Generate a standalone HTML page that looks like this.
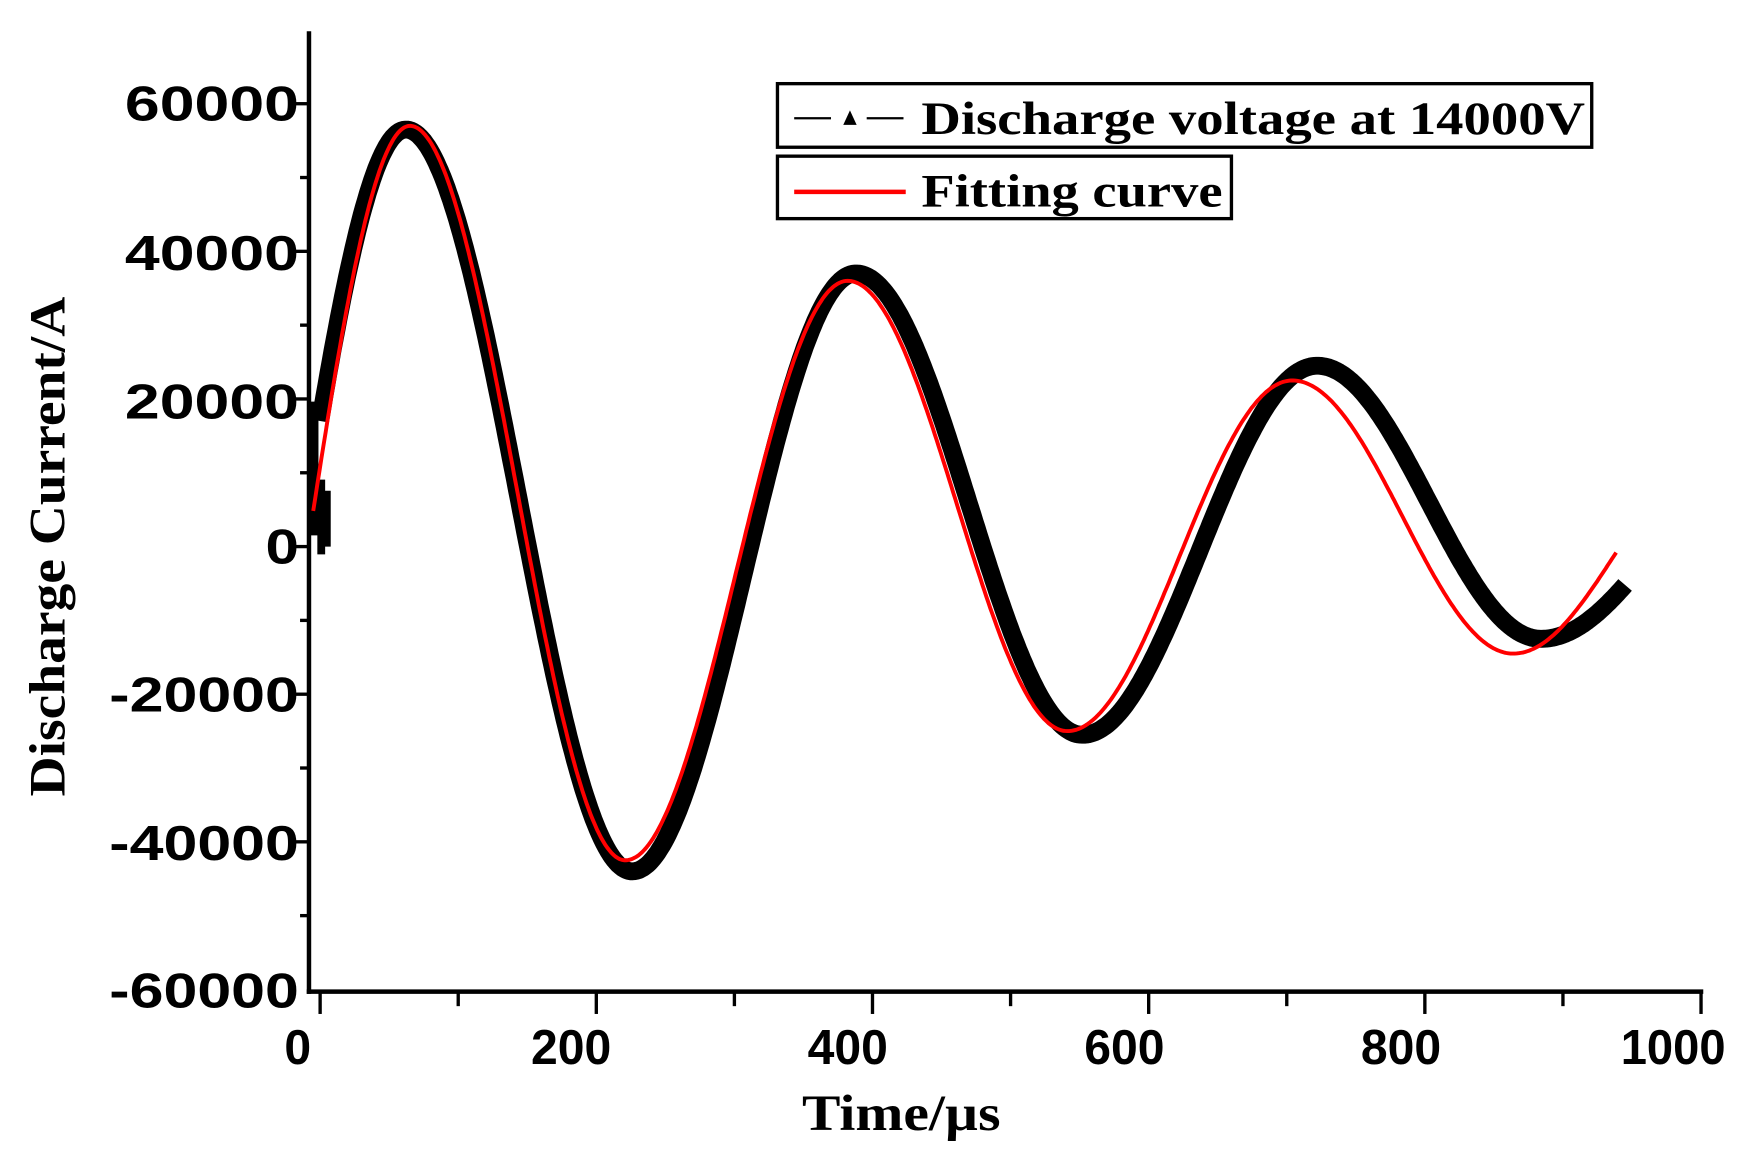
<!DOCTYPE html>
<html><head><meta charset="utf-8"><style>html,body{margin:0;padding:0;background:#fff}svg{display:block}</style></head>
<body>
<svg id="s" width="1749" height="1165" viewBox="0 0 1568 1044.4" preserveAspectRatio="none" xmlns="http://www.w3.org/2000/svg">
<rect width="1568" height="1045" fill="#fff"/>
<g stroke="#000" stroke-width="4" fill="none">
<line x1="277" y1="28" x2="277" y2="891"/>
<line x1="275" y1="889" x2="1527" y2="889"/>
</g>
<g id="ticks" stroke="#000" stroke-width="3"></g>
<g font-family="Liberation Sans, Arial, sans-serif" font-weight="bold" font-size="44" fill="#000">
<text x="268" y="108" text-anchor="end" textLength="156" lengthAdjust="spacingAndGlyphs">60000</text>
<text x="268" y="242" text-anchor="end" textLength="156" lengthAdjust="spacingAndGlyphs">40000</text>
<text x="268" y="375" text-anchor="end" textLength="156" lengthAdjust="spacingAndGlyphs">20000</text>
<text x="268" y="505" text-anchor="end" textLength="30" lengthAdjust="spacingAndGlyphs">0</text>
<text x="268" y="638" text-anchor="end" textLength="170" lengthAdjust="spacingAndGlyphs">-20000</text>
<text x="268" y="771" text-anchor="end" textLength="170" lengthAdjust="spacingAndGlyphs">-40000</text>
<text x="268" y="903" text-anchor="end" textLength="170" lengthAdjust="spacingAndGlyphs">-60000</text>
<text x="267" y="954" text-anchor="middle" textLength="24" lengthAdjust="spacingAndGlyphs">0</text>
<text x="512" y="954" text-anchor="middle" textLength="72" lengthAdjust="spacingAndGlyphs">200</text>
<text x="760" y="954" text-anchor="middle" textLength="72" lengthAdjust="spacingAndGlyphs">400</text>
<text x="1008" y="954" text-anchor="middle" textLength="72" lengthAdjust="spacingAndGlyphs">600</text>
<text x="1256" y="954" text-anchor="middle" textLength="72" lengthAdjust="spacingAndGlyphs">800</text>
<text x="1500" y="954" text-anchor="middle" textLength="94" lengthAdjust="spacingAndGlyphs">1000</text>
</g>
<g font-family="Liberation Serif, Times New Roman, serif" font-weight="bold" fill="#000">
<text x="808" y="1013" text-anchor="middle" font-size="46" textLength="178" lengthAdjust="spacingAndGlyphs">Time/µs</text>
<text transform="translate(58,490) rotate(-90)" text-anchor="middle" font-size="46" textLength="448" lengthAdjust="spacingAndGlyphs">Discharge Current/A</text>
</g>
<path id="blk" fill="none" stroke="#000" stroke-width="16" stroke-linejoin="round"/>
<path d="M282 360 L282 480 M288 430 L288 497 M293 440 L293 490" fill="none" stroke="#000" stroke-width="7"/>
<path id="red" fill="none" stroke="#f00" stroke-width="3.5" stroke-linejoin="round"/>
<g stroke="#000" stroke-width="3" fill="#fff">
<rect x="697" y="75" width="730" height="57"/>
<rect x="697" y="140" width="407" height="56"/>
</g>
<line x1="712" y1="106" x2="745" y2="106" stroke="#000" stroke-width="2"/>
<line x1="777" y1="106" x2="810" y2="106" stroke="#000" stroke-width="2"/>
<polygon points="756,112 768,112 762,99" fill="#000"/>
<line x1="712" y1="172" x2="812" y2="172" stroke="#f00" stroke-width="4"/>
<g font-family="Liberation Serif, Times New Roman, serif" font-weight="bold" font-size="42" fill="#000">
<text x="826" y="120" textLength="595" lengthAdjust="spacingAndGlyphs">Discharge voltage at 14000V</text>
<text x="826" y="185" textLength="270" lengthAdjust="spacingAndGlyphs">Fitting curve</text>
</g>
</svg>
<script>
var X=function(t){return 287+t*1.238},Y=function(v){return 490-v*0.006617};
var tk=document.getElementById('ticks'),h='';
for(var i=0;i<=10;i++){var x=X(i*100);h+='<line x1="'+x+'" y1="889" x2="'+x+'" y2="'+(i%2?902:909)+'"/>';}
for(var j=-6;j<=6;j++){var y=Y(j*10000);if(j==-6)continue;h+='<line x1="'+(j%2?269:263)+'" y1="'+y+'" x2="277" y2="'+y+'"/>';}
tk.innerHTML=h;
function build(t0,ts,te,ext){
 var pts=[];
 for(var t=ts;t<=te;t+=1.5){
  var v;
  if(t<=ext[0][0]){v=ext[0][1]*Math.sin(Math.PI/2*(t-t0)/(ext[0][0]-t0));}
  else{for(var k=0;k<ext.length-1;k++){if(t<=ext[k+1][0]){var a=ext[k],b=ext[k+1];v=(a[1]+b[1])/2+(a[1]-b[1])/2*Math.cos(Math.PI*(t-a[0])/(b[0]-a[0]));break;}}}
  pts.push(X(t).toFixed(1)+','+Y(v).toFixed(1));
 }
 return 'M'+pts.join(' L');
}
document.getElementById('blk').setAttribute('d',build(-15,0,945,[[62,56500],[226,-44000],[388,37000],[552,-25500],[722,24500],[884,-12500],[1050,12000]]));
document.getElementById('red').setAttribute('d',build(-9,-5,939,[[65,57000],[221,-42500],[382,36000],[541,-25000],[704,22500],[864,-14500],[1010,12000]]));
</script>
</body></html>
